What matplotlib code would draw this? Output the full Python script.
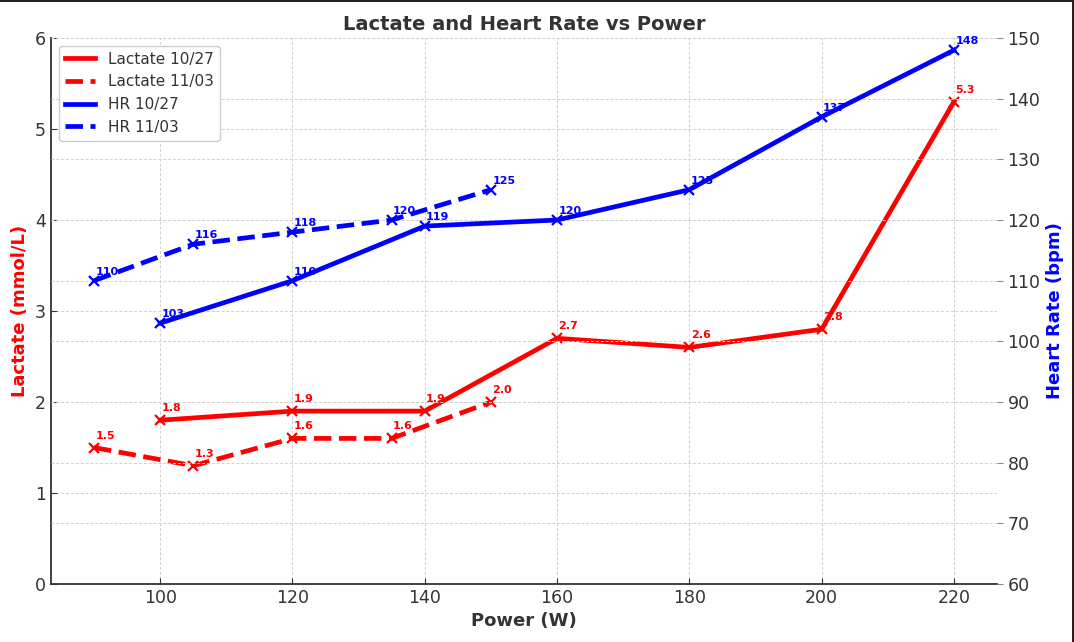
import matplotlib
import matplotlib.pyplot as plt
from matplotlib.patches import Rectangle

matplotlib.use('Agg')

# data
power_1027 = [100, 120, 140, 160, 180, 200, 220]
lactate_1027 = [1.8, 1.9, 1.9, 2.7, 2.6, 2.8, 5.3]
hr_1027 = [103, 110, 119, 120, 125, 137, 148]

power_1103 = [90, 105, 120, 135, 150]
lactate_1103 = [1.5, 1.3, 1.6, 1.6, 2.0]
hr_1103 = [110, 116, 118, 120, 125]

plt.rcParams['font.family'] = ['DejaVu Sans']
txt = '#333333'

fig = plt.figure(figsize=(10.74, 6.42), dpi=100)
ax1 = fig.add_axes([0.0475, 0.0903, 0.8808, 0.8505])
ax2 = ax1.twinx()

# lactate lines (left axis)
ax1.plot(power_1027, lactate_1027, color='red', lw=3.4, label='Lactate 10/27')
ax1.plot(power_1027, lactate_1027, color='red', ls='none', marker='x', ms=7, mew=1.6)
ax1.plot(power_1103, lactate_1103, color='red', lw=3.4, ls='--', label='Lactate 11/03')
ax1.plot(power_1103, lactate_1103, color='red', ls='none', marker='x', ms=7, mew=1.6)

# heart rate lines (right axis)
ax2.plot(power_1027, hr_1027, color='blue', lw=3.4, label='HR 10/27')
ax2.plot(power_1027, hr_1027, color='blue', ls='none', marker='x', ms=7, mew=1.6)
ax2.plot(power_1103, hr_1103, color='blue', lw=3.4, ls='--', label='HR 11/03')
ax2.plot(power_1103, hr_1103, color='blue', ls='none', marker='x', ms=7, mew=1.6)

for x, y in zip(power_1027 + power_1103, lactate_1027 + lactate_1103):
    ax1.annotate(f'{y:.1f}', (x, y), xytext=(1, 5), textcoords='offset points',
                 color='red', fontsize=8, fontweight='bold', ha='left', va='bottom')
for x, y in zip(power_1027 + power_1103, hr_1027 + hr_1103):
    ax2.annotate(f'{y}', (x, y), xytext=(1, 3), textcoords='offset points',
                 color='blue', fontsize=8, fontweight='bold', ha='left', va='bottom')

ax1.set_ylim(0, 6)
ax2.set_ylim(60, 150)
ax1.set_xticks([100, 120, 140, 160, 180, 200, 220])

grid_style = dict(ls=(0, (3, 2)), color='#d0d0d0', lw=0.7)
ax1.grid(True, **grid_style)
ax2.grid(True, axis='y', **grid_style)
ax1.set_axisbelow(True)

for ax in (ax1, ax2):
    ax.spines['top'].set_visible(False)
    ax.spines['right'].set_visible(False)
ax2.spines['left'].set_visible(False)
ax2.spines['bottom'].set_visible(False)
for s in ('left', 'bottom'):
    ax1.spines[s].set_color('#333333')
    ax1.spines[s].set_linewidth(1.3)

ax1.tick_params(axis='both', direction='in', labelsize=12.5, colors=txt, length=4)
ax2.tick_params(axis='y', direction='out', labelsize=12.5, colors=txt, length=4, color='#888888')

ax1.set_xlabel('Power (W)', fontsize=13, fontweight='bold', color=txt)
ax1.set_ylabel('Lactate (mmol/L)', fontsize=13, fontweight='bold', color='red')
ax2.set_ylabel('Heart Rate (bpm)', fontsize=13, fontweight='bold', color='blue')
ax1.set_title('Lactate and Heart Rate vs Power', fontsize=14, fontweight='bold', color=txt)

h1, l1 = ax1.get_legend_handles_labels()
h2, l2 = ax2.get_legend_handles_labels()
leg = ax2.legend(h1 + h2, l1 + l2, loc='upper left', fontsize=11, framealpha=1,
                 edgecolor='#cccccc', labelcolor=txt)

# dark screenshot frame on top and right edges
fig.patches.append(Rectangle((0, 1 - 2 / 642), 1, 2 / 642, transform=fig.transFigure,
                             facecolor='#222222', lw=0, zorder=10))
fig.patches.append(Rectangle((1 - 2 / 1074, 0), 2 / 1074, 1, transform=fig.transFigure,
                             facecolor='#222222', lw=0, zorder=10))

plt.savefig('out.png', dpi=100)
